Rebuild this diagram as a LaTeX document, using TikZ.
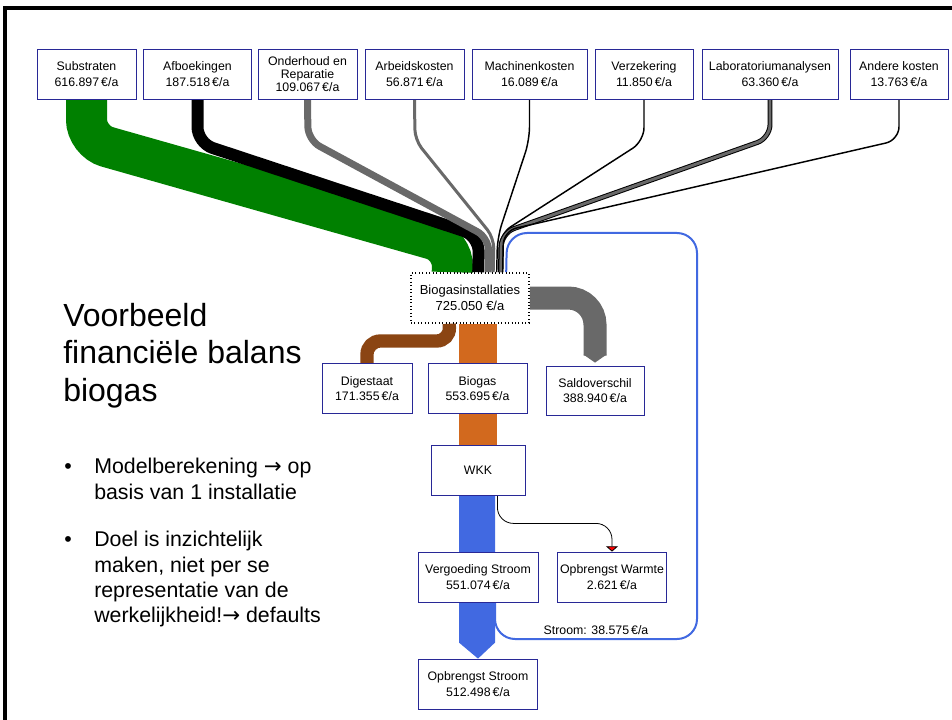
\documentclass[tikz,border=0pt]{standalone}
\usepackage{fontspec}
\setmainfont{Liberation Sans}
\newfontfamily\arrowfont{DejaVu Sans}
\usetikzlibrary{calc,arrows.meta}
\pgfdeclarelayer{flows}
\pgfsetlayers{flows,main}
\definecolor{boxblue}{RGB}{40,40,150}
\definecolor{flowgreen}{RGB}{0,128,0}
\definecolor{flowgray}{RGB}{105,105,105}
\definecolor{floworange}{RGB}{210,105,30}
\definecolor{flowbrown}{RGB}{139,69,19}
\definecolor{flowblue}{RGB}{65,105,225}
\tikzset{
	kbox/.style={draw=boxblue, fill=white, line width=0.6pt, align=center, inner sep=0pt,
		minimum height=37.5pt, font=\fontsize{9.25}{11.5}\selectfont},
	thinflow/.style={line width=1.1pt, rounded corners=10pt},
	punt/.style={anchor=north west, align=left, inner sep=0pt, font=\fontsize{16}{19}\selectfont},
	bol/.style={anchor=base west, inner sep=0pt, font=\fontsize{16}{19}\selectfont},
}
\newcommand{\toarrow}{{\arrowfont →}}

\begin{document}
\begin{tikzpicture}[x=0.75pt, y=-0.75pt]
		%%%%% START %%%%%
		\useasboundingbox (0,0) rectangle (952,720);
		\draw[line width=2.5pt] (5,720) -- (5,8) -- (952,8);
		
		% kosten
		\node[kbox, minimum width=74.25pt] (subst) at (86.5,74) {Substraten\\616.897\,€/a};
		\node[kbox, minimum width=81pt] (afboek) at (197.5,74) {Afboekingen\\187.518\,€/a};
		\node[kbox, minimum width=74.25pt, font=\fontsize{9.25}{9.75}\selectfont] (onder) at (307.5,74) {Onderhoud en\\Reparatie\\109.067\,€/a};
		\node[kbox, minimum width=74.25pt] (arbeid) at (414.5,74) {Arbeidskosten\\56.871\,€/a};
		\node[kbox, minimum width=86.25pt] (machine) at (529.5,74) {Machinenkosten\\16.089\,€/a};
		\node[kbox, minimum width=73.5pt] (verzek) at (644,74) {Verzekering\\11.850\,€/a};
		\node[kbox, minimum width=102pt] (labor) at (770,74) {Laboratoriumanalysen\\63.360\,€/a};
		\node[kbox, minimum width=73.5pt] (andere) at (899,74) {Andere kosten\\13.763\,€/a};
		
		% installatie en opbrengsten
		\node[kbox, draw=black, dotted, line width=1.2pt, minimum width=88.5pt, font=\fontsize{9.75}{12}\selectfont] (bio) at (470,298) {Biogasinstallaties\\725.050 €/a};
		\node[kbox, minimum width=67.5pt] (dig) at (367,388.5) {Digestaat\\171.355\,€/a};
		\node[kbox, minimum width=74.25pt] (biogas) at (477.5,388.5) {Biogas\\553.695\,€/a};
		\node[kbox, minimum width=73.5pt, minimum height=36.75pt] (saldo) at (595,390.5) {Saldoverschil\\388.940\,€/a};
		\node[kbox, minimum width=70.5pt] (wkk) at (478,470) {WKK};
		\node[kbox, minimum width=90pt] (vergoed) at (478,577) {Vergoeding Stroom\\551.074\,€/a};
		\node[kbox, minimum width=81.75pt] (warmte) at (612,577) {Opbrengst Warmte\\2.621\,€/a};
		\node[kbox, minimum width=89.25pt] (opbr) at (478,684) {Opbrengst Stroom\\512.498\,€/a};
		
		% tekst links
		\node[anchor=north west, align=left, inner sep=0pt, font=\fontsize{24}{28}\selectfont] (titel) at (63,303) {Voorbeeld\\financiële balans\\biogas};
		\node[bol] (bol1) at (64,473.5) {•};
		\node[punt] (punt1) at (94,458) {Modelberekening \toarrow{} op\\basis van 1 installatie};
		\node[bol] (bol2) at (64,546.5) {•};
		\node[punt] (punt2) at (94,531) {Doel is inzichtelijk\\maken, niet per se\\representatie van de\\werkelijkheid!\toarrow{} defaults};
		
		\begin{pgfonlayer}{flows}
		% stromen naar de installatie
		\draw[flowgreen, line width=30.75pt, rounded corners=16pt] (subst.south) -- (86.5,141) -- (453,245) -- ($(bio.north west)+(42,0)$);
		\draw[black, line width=9pt, rounded corners=12pt] (afboek.south) -- (197.5,143) -- (479,236) -- ($(bio.north west)+(68,0)$);
		\draw[flowgray, line width=5.25pt, rounded corners=10pt] (onder.south) -- (308,140) -- (489,238) -- ($(bio.north west)+(78,0)$);
		\draw[flowgray, line width=2.25pt, rounded corners=8pt] (arbeid.south) -- (415,140) -- (494,238) -- ($(bio.north west)+(83,0)$);
		\draw[thinflow] (machine.south) -- (529.5,140) -- (497.5,237) -- ($(bio.north west)+(86.5,0)$);
		\draw[thinflow] (verzek.south) -- (644,141) -- (499.5,234) -- ($(bio.north west)+(88.5,0)$);
		\draw[line width=0.75pt, double=flowgray, double distance=2.2pt, rounded corners=10pt] (labor.south) -- (770,138) -- (501.5,233) -- ($(bio.north west)+(90.5,0)$);
		\draw[thinflow] (andere.south) -- (899,140) -- (503.5,231) -- ($(bio.north west)+(92.5,0)$);
		
		% stromen uit de installatie
		\draw[flowbrown, line width=10pt, rounded corners=10pt] ($(bio.south west)+(39,0)$) -- (450,341) -| (dig.north);
		\draw[floworange, line width=28.5pt] (bio.south -| wkk.north) -- (wkk.north);
		\draw[flowgray, line width=17.25pt, rounded corners=20pt] (bio.east) -| ($(saldo.north)+(0,-10)$);
		\fill[flowgray] ($(saldo.north)+(-11.5,-11)$) -- ($(saldo.north)+(0,-3)$) -- ($(saldo.north)+(11.5,-11)$) -- cycle;
		\fill[flowblue] ($(wkk.south)+(-19,0)$) -- ($(opbr.north)+(-19,-16)$) -- (opbr.north) -- ($(opbr.north)+(17,-16)$) -- ($(wkk.south)+(17,0)$) -- cycle;
		\draw[flowblue, line width=1.5pt, rounded corners=15pt] ($(vergoed.south)+(17,0)$) -- (495,639) -- node[anchor=base, yshift=3.75pt, font=\fontsize{9.25}{11}\selectfont, text=black] {Stroom: 38.575\,€/a} (697,639) -- (697,233) -- (507,233) -- ($(bio.north west)+(96,0)$);
		\draw[-{Triangle[width=9pt,length=4pt,fill=red]}, line width=0.6pt, rounded corners=12pt] ($(wkk.south east)+(-28,0)$) -- ++(0,28) -| (warmte.north);
		\end{pgfonlayer}
		
		%%%%% END %%%%%
	\end{tikzpicture}
\end{document}
